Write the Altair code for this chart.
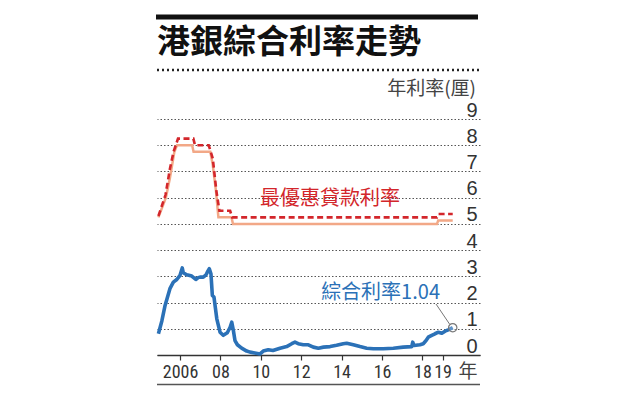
import altair as alt
import pandas as pd

# ---- data ----
prime_a_years = [2004.93, 2005.3, 2005.5, 2005.72, 2005.85, 2006.6, 2006.67, 2007.5, 2007.62,
                 2007.78, 2007.9, 2008.55, 2008.62, 2018.72, 2018.78, 2019.5]
prime_a_vals = [5.25, 6.0, 6.75, 7.75, 8.0, 8.0, 7.75, 7.75, 7.25,
                6.25, 5.25, 5.25, 5.0, 5.0, 5.125, 5.125]

prime_b_years = [2004.93, 2005.28, 2005.5, 2005.68, 2005.9, 2006.66, 2006.74, 2007.42, 2007.62,
                 2007.8, 2007.95, 2008.48, 2008.58, 2018.72, 2018.8, 2019.5]
prime_b_vals = [5.3, 6.1, 7.1, 7.75, 8.25, 8.25, 8.0, 8.0, 7.5,
                6.25, 5.5, 5.5, 5.25, 5.25, 5.375, 5.375]

comp_years = [2004.93, 2005.1, 2005.26, 2005.5, 2005.67, 2005.84, 2006.0, 2006.11, 2006.16,
              2006.33, 2006.58, 2006.78, 2006.9, 2006.99, 2007.15, 2007.29, 2007.35, 2007.45,
              2007.53, 2007.6, 2007.68, 2007.82, 2007.98, 2008.14, 2008.34, 2008.48, 2008.56,
              2008.64, 2008.72, 2008.84, 2009.05, 2009.3, 2009.47, 2009.7, 2009.96, 2010.12,
              2010.37, 2010.6, 2010.95, 2011.28, 2011.53, 2011.69, 2011.85, 2012.1, 2012.35,
              2012.6, 2012.85, 2013.1, 2013.43, 2013.75, 2014.08, 2014.25, 2014.58, 2014.91,
              2015.24, 2015.57, 2016.06, 2016.56, 2017.05, 2017.47, 2017.52, 2017.58, 2017.88,
              2018.04, 2018.18, 2018.29, 2018.46, 2018.62, 2018.79, 2018.96, 2019.12, 2019.28,
              2019.5]
comp_vals = [0.81, 1.3, 1.89, 2.53, 2.78, 2.88, 3.04, 3.32, 3.14,
             3.06, 3.01, 2.88, 2.95, 2.97, 2.97, 3.06, 3.16, 3.29,
             3.1, 2.27, 2.21, 1.38, 0.87, 0.75, 0.85, 1.06, 1.25,
             0.94, 0.55, 0.39, 0.26, 0.15, 0.11, 0.08, 0.04, 0.15,
             0.2, 0.17, 0.26, 0.32, 0.43, 0.49, 0.43, 0.39, 0.39,
             0.3, 0.26, 0.3, 0.32, 0.37, 0.43, 0.45, 0.39, 0.32,
             0.26, 0.24, 0.24, 0.26, 0.3, 0.32, 0.49, 0.36, 0.39,
             0.43, 0.55, 0.68, 0.75, 0.81, 0.87, 0.83, 0.91, 0.96,
             1.04]

latest_year = [2019.5]
latest_val = [1.04]

tick_years = [2006, 2008, 2010, 2012, 2014, 2016, 2018, 2019]
tick_labels = ["2006", "08", "10", "12", "14", "16", "18", "19"]
y_ticks = [0, 1, 2, 3, 4, 5, 6, 7, 8, 9]

title_text = "港銀綜合利率走勢"
unit_text = "年利率(厘)"
year_text = "年"
prime_label = "最優惠貸款利率"
comp_label = "綜合利率1.04"

# ---- frames ----
df_a = pd.DataFrame({"year": prime_a_years, "rate": prime_a_vals})
df_b = pd.DataFrame({"year": prime_b_years, "rate": prime_b_vals})
df_c = pd.DataFrame({"year": comp_years, "rate": comp_vals})
df_pt = pd.DataFrame({"year": latest_year, "rate": latest_val})
one = pd.DataFrame({"k": [0]})

label_expr = " : ".join(
    f"datum.value == {y} ? '{l}'" for y, l in zip(tick_years, tick_labels)
) + " : ''"

NARROW_FONT = "Liberation Sans Narrow, Roboto Condensed, DejaVu Sans Condensed, Liberation Sans, sans-serif"
NUM_FONT = "Liberation Sans, Arial, sans-serif"
CJK_FONT = "Noto Sans CJK TC"

X = alt.X("year:Q",
          scale=alt.Scale(domain=[2004.86, 2020.85], nice=False, zero=False),
          axis=alt.Axis(values=tick_years, labelExpr=label_expr, title=None, grid=False,
                        domain=True, domainColor="#333", domainWidth=1.5,
                        ticks=True, tickSize=5, tickColor="#333", tickWidth=1.2,
                        labelFont=NARROW_FONT, labelFontSize=18, labelColor="#333",
                        labelPadding=3, labelFlush=False, labelOverlap=False))
Y = alt.Y("rate:Q",
          scale=alt.Scale(domain=[0, 9], nice=False, zero=True),
          axis=alt.Axis(orient="right", values=y_ticks, title=None, domain=False,
                        ticks=False, tickSize=0, grid=True, gridDash=[1.5, 2],
                        gridColor="#555", gridWidth=1, labelAlign="right",
                        labelBaseline="alphabetic", labelPadding=-3, labelOffset=-3,
                        labelFont=NUM_FONT, labelFontSize=20, labelColor="#333",
                        labelFlush=False, labelOverlap=False))

line_a = alt.Chart(df_a).mark_line(color="#f2a887", strokeWidth=2.5).encode(x=X, y=Y)
line_b = alt.Chart(df_b).mark_line(color="#d3262b", strokeWidth=2.6, strokeDash=[6, 3.5]).encode(x=X, y=Y)
line_c = alt.Chart(df_c).mark_line(color="#2b71b7", strokeWidth=3.6, strokeJoin="round").encode(x=X, y=Y)

leader = alt.Chart(one).mark_rule(color="#777", strokeWidth=1).encode(
    x=alt.value(436 - 157), y=alt.value(304 - 119),
    x2=alt.value(449.5 - 157), y2=alt.value(324 - 119))

point = alt.Chart(df_pt).mark_point(shape="circle", size=70, color="#777", filled=False,
                                    strokeWidth=1.2, fill="white", fillOpacity=0.25).encode(x=X, y=Y)

prime_txt = alt.Chart(one).mark_text(text=prime_label, font=CJK_FONT, fontSize=20,
                                     color="#d3262b", align="center", baseline="middle").encode(
    x=alt.value(330 - 157), y=alt.value(199 - 119))
comp_txt = alt.Chart(one).mark_text(text=comp_label, font=CJK_FONT, fontSize=20,
                                    color="#2b71b7", align="right", baseline="middle").encode(
    x=alt.value(440 - 157), y=alt.value(293 - 119))

title_bar = alt.Chart(one).mark_rule(color="#111", strokeWidth=5).encode(
    x=alt.value(156 - 157), x2=alt.value(478 - 157), y=alt.value(17 - 119))
title_txt = alt.Chart(one).mark_text(text=title_text, font=CJK_FONT, fontSize=33, fontWeight="bold",
                                     color="#111", align="left", baseline="middle").encode(
    x=alt.value(0), y=alt.value(43 - 119))
dots = alt.Chart(one).mark_rule(color="#222", strokeWidth=2.5, strokeDash=[2, 3]).encode(
    x=alt.value(0), x2=alt.value(480 - 157), y=alt.value(70 - 119))
unit_txt = alt.Chart(one).mark_text(text=unit_text, font=CJK_FONT, fontSize=19,
                                    color="#444", align="right", baseline="middle").encode(
    x=alt.value(476 - 157), y=alt.value(89 - 119))
year_txt = alt.Chart(one).mark_text(text=year_text, font=CJK_FONT, fontSize=19,
                                    color="#444", align="center", baseline="middle").encode(
    x=alt.value(468 - 157), y=alt.value(372 - 119))
bottom_rule = alt.Chart(one).mark_rule(color="#555", strokeWidth=1.5).encode(
    x=alt.value(0), x2=alt.value(480 - 157), y=alt.value(384.5 - 119))

chart = alt.layer(
    line_a, line_b, line_c, leader, point, prime_txt, comp_txt,
    title_bar, title_txt, dots, unit_txt, year_txt, bottom_rule
).properties(
    width=323, height=236,
    autosize=alt.AutoSizeParams(type="none"),
    padding={"left": 157, "top": 119, "right": 142, "bottom": 58},
    background="white",
).configure_view(stroke=None)

chart.save("out.html", embed_options={"renderer": "svg", "actions": False})
